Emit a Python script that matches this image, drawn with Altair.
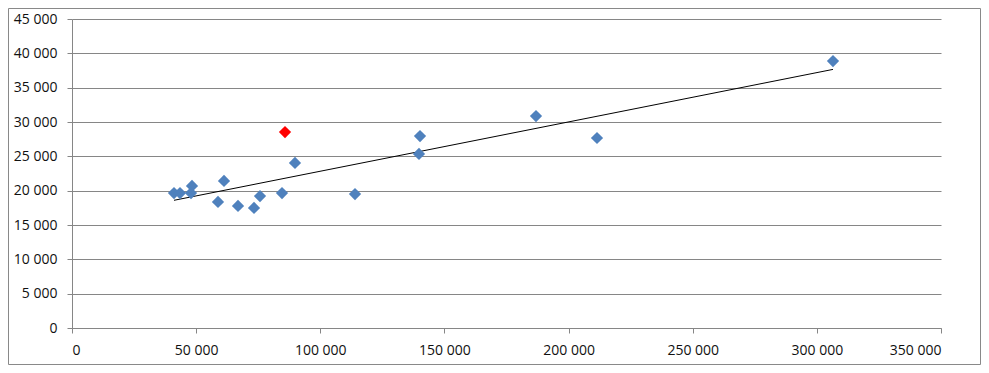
import altair as alt
import pandas as pd

# Values
x_vals = [41080, 43500, 48330, 47930, 58800, 61220, 66860, 73300, 75720,
          84580, 85790, 89810, 113980, 139750, 140160, 186880, 211450, 306500]
y_vals = [19660, 19660, 20680, 19660, 18350, 21410, 17770, 17480, 19220,
          19660, 28540, 24030, 19510, 25340, 27960, 30870, 27670, 38880]
highlight = ["n", "n", "n", "n", "n", "n", "n", "n", "n",
             "n", "y", "n", "n", "n", "n", "n", "n", "n"]

x_ticks = [0, 50000, 100000, 150000, 200000, 250000, 300000, 350000]
y_ticks = [0, 5000, 10000, 15000, 20000, 25000, 30000, 35000, 40000, 45000]

df = pd.DataFrame({"x": x_vals, "y": y_vals, "h": highlight})

W, H = 869, 309
PL, PT = 64, 11
TOTAL_W, TOTAL_H = 973, 357

label_expr = "replace(format(datum.value, ','), regexp(',', 'g'), ' ')"

x_enc = alt.X("x:Q", scale=alt.Scale(domain=[0, 350000], nice=False),
              axis=alt.Axis(values=x_ticks, grid=False, title=None,
                            labelExpr=label_expr))
y_enc = alt.Y("y:Q", scale=alt.Scale(domain=[0, 45000], nice=False),
              axis=alt.Axis(values=y_ticks, grid=True, title=None,
                            labelExpr=label_expr))

base = alt.Chart(df)

points = base.mark_point(shape="diamond", filled=True, size=150, opacity=1).encode(
    x=x_enc,
    y=y_enc,
    color=alt.Color("h:N", scale=alt.Scale(domain=["n", "y"], range=["#4F81BD", "#FF0000"]),
                    legend=None),
)

trend = base.transform_regression("x", "y").mark_line(color="#000000", strokeWidth=1).encode(
    x=x_enc, y=y_enc
)

border = alt.Chart(pd.DataFrame({"a": [0]})).mark_rect(
    fill=None, stroke="#898989", strokeWidth=1
).encode(
    x=alt.value(-PL + 0.5), x2=alt.value(TOTAL_W - PL - 0.5),
    y=alt.value(-PT + 0.5), y2=alt.value(TOTAL_H - PT - 0.5),
)

chart = alt.layer(border, trend, points).properties(
    width=W, height=H,
    autosize=alt.AutoSizeParams(type="none"),
    padding={"left": PL, "top": PT, "right": TOTAL_W - PL - W, "bottom": TOTAL_H - PT - H},
).configure_view(stroke=None).configure_axis(
    domainColor="#868686", tickColor="#868686", gridColor="#868686",
    tickSize=5, labelFont="Open Sans", labelFontSize=14, labelColor="#111111",
    labelOverlap=False,
).configure_axisX(labelPadding=10).configure_axisY(labelPadding=10)

chart.save("out.html", embed_options={"renderer": "svg", "actions": False})
